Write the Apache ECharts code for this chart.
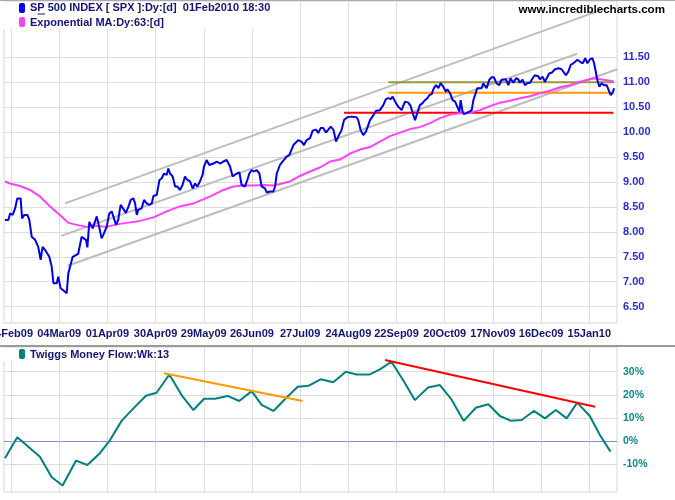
<!DOCTYPE html>
<html>
<head>
<meta charset="utf-8">
<script src="https://cdn.jsdelivr.net/npm/echarts@6/dist/echarts.min.js"></script>
<style>html,body{margin:0;padding:0;background:#fff;}#c{width:675px;height:500px;}</style>
</head>
<body>
<div id="c"></div>
<script>
// ---- data (x = trading days from 04Feb09) ----
const dateLabels = ['04Feb09','04Mar09','01Apr09','30Apr09','29May09','26Jun09','27Jul09','24Aug09','22Sep09','20Oct09','17Nov09','16Dec09','15Jan10'];
const labelDays = [0,20,40,60,80,100,120,140,160,180,200,220,240];
const priceTicks = [6.5,7.0,7.5,8.0,8.5,9.0,9.5,10.0,10.5,11.0,11.5];
const tmfTicks = [-10,0,10,20,30];

const priceDays = [-2.5,-1.1,-0.4,0.7,1.7,2.6,4.0,4.6,5.5,6.8,7.6,8.6,10.0,11.3,12.3,13.1,14.1,15.9,16.9,17.6,19.0,19.6,20.6,21.7,23.1,23.8,24.5,25.6,26.1,27.9,29.3,30.0,31.1,31.7,32.5,33.1,33.9,35.6,36.4,37.6,38.3,39.7,40.8,41.8,42.5,43.6,44.5,45.5,46.3,47.7,48.7,49.7,50.8,51.5,52.2,52.8,54.2,55.2,56.3,57.4,58.4,59.1,60.5,61.6,62.5,63.5,64.6,65.3,66.0,67.1,68.1,69.0,70.1,71.2,72.2,73.2,74.3,75.4,76.4,77.3,78.4,79.5,80.1,81.2,82.3,84.0,85.4,86.7,88.1,89.5,90.9,92.0,93.7,94.8,95.7,97.1,98.1,98.9,99.9,100.8,101.9,103.1,104.0,105.4,106.1,107.5,108.9,109.6,110.3,111.6,112.7,114.4,115.5,117.2,117.9,119.2,120.6,121.6,122.7,124.1,125.2,126.6,127.5,128.5,129.6,130.7,131.7,132.7,133.8,134.9,135.8,136.5,137.2,138.2,139.6,141.4,143.4,144.1,145.1,146.2,147.3,149.0,150.4,151.5,153.1,154.5,155.6,156.6,157.6,158.4,159.4,160.7,162.1,163.5,164.9,165.9,166.7,167.7,168.6,169.7,170.8,171.8,172.8,173.6,174.6,175.5,176.4,177.4,178.3,179.4,180.5,181.1,182.2,183.3,184.3,185.2,186.1,186.6,187.4,188.0,189.1,190.2,191.2,191.9,192.5,193.5,194.3,195.3,196.0,196.7,197.4,198.5,199.5,200.4,201.5,202.6,203.6,204.3,205.4,206.4,207.3,208.5,209.6,210.5,211.2,212.3,213.3,214.3,215.4,216.5,217.4,218.8,219.5,220.6,221.6,222.3,223.4,224.4,225.8,227.2,228.5,229.2,230.3,231.3,232.3,233.4,234.1,235.1,236.2,237.3,238.3,239.2,240.3,241.3,242.0,242.8,243.3,244.2,245.1,246.1,247.2,247.9,248.9,249.7,250.3];
const priceValues = [8.24,8.24,8.37,8.34,8.47,8.67,8.67,8.27,8.34,8.34,8.24,7.90,7.84,7.70,7.44,7.70,7.64,7.50,7.30,6.97,6.97,7.10,6.87,6.83,6.77,7.17,7.20,7.50,7.53,7.56,7.90,7.94,7.84,7.69,8.20,8.17,8.07,8.31,8.14,7.87,7.94,8.10,8.37,8.41,8.37,8.14,8.24,8.54,8.57,8.38,8.50,8.64,8.67,8.57,8.34,8.44,8.47,8.64,8.57,8.54,8.57,8.72,8.74,9.04,9.07,9.17,9.14,9.27,9.17,9.11,8.91,8.91,8.84,8.94,9.11,9.04,9.01,8.87,8.97,8.91,9.01,9.14,9.31,9.44,9.34,9.37,9.41,9.37,9.41,9.44,9.31,9.11,9.17,9.19,8.94,8.91,9.04,9.17,9.24,9.21,9.24,9.17,8.91,8.87,8.79,8.81,8.81,8.91,9.17,9.34,9.41,9.51,9.54,9.74,9.77,9.84,9.81,9.74,9.84,9.88,10.03,10.05,9.98,10.08,10.08,9.99,10.05,10.11,10.05,9.81,9.91,9.91,10.04,10.24,10.30,10.31,10.30,10.24,10.04,9.94,10.01,10.24,10.34,10.43,10.44,10.54,10.66,10.68,10.66,10.71,10.61,10.51,10.44,10.61,10.59,10.52,10.38,10.24,10.38,10.54,10.58,10.64,10.68,10.74,10.76,10.88,10.94,10.88,10.98,10.91,10.81,10.86,10.78,10.64,10.61,10.51,10.41,10.64,10.41,10.36,10.38,10.41,10.44,10.64,10.68,10.88,10.91,10.88,10.98,10.98,10.88,11.05,11.10,11.10,10.98,10.94,11.05,11.08,11.06,10.94,11.08,10.99,11.08,11.06,10.99,11.05,10.94,10.98,10.99,11.08,11.14,11.12,11.06,11.11,11.01,10.98,11.18,11.19,11.26,11.28,11.26,11.26,11.14,11.21,11.35,11.38,11.41,11.45,11.41,11.38,11.48,11.38,11.46,11.48,11.38,11.18,11.05,10.91,10.98,10.94,10.94,10.91,10.74,10.79,10.88];

const emaDays = [-2.5,-0.4,3.7,7.9,12.0,16.2,20.3,23.8,27.3,31.4,35.6,39.7,43.9,48.0,53.5,59.1,64.6,70.1,75.7,79.8,84.0,88.1,92.3,96.4,100.6,104.7,108.9,111.6,115.8,119.9,124.1,128.2,132.4,136.5,140.7,144.8,149.0,153.1,157.3,161.4,165.6,169.7,173.9,178.0,182.2,186.3,190.5,194.6,198.8,203.0,207.1,211.2,215.4,219.5,223.7,227.8,231.9,236.1,240.3,242.3,245.8,248.5,250.3];
const emaValues = [9.01,8.97,8.92,8.84,8.71,8.51,8.34,8.18,8.14,8.10,8.12,8.10,8.15,8.18,8.22,8.29,8.41,8.51,8.57,8.65,8.74,8.84,8.91,8.93,8.93,8.94,8.93,8.96,9.01,9.12,9.21,9.29,9.41,9.45,9.57,9.65,9.70,9.81,9.92,9.99,10.06,10.10,10.18,10.28,10.35,10.38,10.39,10.44,10.52,10.59,10.63,10.68,10.72,10.78,10.83,10.90,10.94,11.01,11.06,11.08,11.05,11.03,11.01];

const channelStart = [[22.4,8.57],[20.8,7.92],[23.5,7.32]];
const channelEnd = [[247.9,12.50],[235.0,11.57],[251.6,11.26]];
const levelValues = [11.00,10.79,10.39];
const levelFrom = [156.6,156.6,138.2];
const levelTo = [250.0,250.0,250.0];

const tmfDays = [-2.5,2.6,7.2,12.0,16.9,21.4,27.0,31.7,36.9,41.1,45.9,50.8,56.0,60.4,65.7,70.8,75.7,80.1,84.6,89.9,94.7,99.9,104.0,108.9,114.1,119.0,123.4,128.5,133.7,139.0,143.4,148.9,153.1,157.9,162.7,167.6,173.1,178.0,182.8,187.9,192.9,198.1,202.9,207.3,211.9,217.0,221.6,226.1,230.6,235.0,240.2,244.4,248.8];
const tmfValues = [-7.5,1.6,-2.5,-6.8,-15.7,-19.3,-8.5,-10.4,-5.3,0.4,8.7,14.1,19.6,20.9,28.8,19.9,13.4,18.3,18.3,19.5,17.3,21.6,15.6,13.0,18.5,23.5,23.9,26.7,25.4,30.0,28.8,28.8,31.0,34.3,26.4,17.7,23.2,24.2,18.0,8.7,14.4,15.9,10.8,8.8,9.1,13.0,9.8,13.4,9.8,16.6,10.8,2.6,-4.6];
const tmfTrendStart = [[63.5,29.3],[155.2,35.1]];
const tmfTrendEnd = [[121.0,17.3],[242.4,14.8]];

// ---- styles ----
const FONT = "'Liberation Sans', Arial, sans-serif";
const channelColor = '#bdbdbd';
const levelColors = ['#999933','#ff9900','#ff0000'];
const tmfTrendColors = ['#ff9900','#ff0000'];
const gridColor = '#dedede';

const chart = echarts.init(document.getElementById('c'), null, {renderer:'canvas'});

const xMin = -2.905, xMax = 251.5;
function xAxisCfg(gridIndex, withLabels) {
  return {
    type:'value', gridIndex, min:xMin, max:xMax,
    axisLine:{show:false},
    axisTick:{show:!withLabels, customValues:labelDays, length:3, inside:false, lineStyle:{color:'#c8c8c8'}},
    axisLabel:{show:withLabels, customValues:labelDays, margin:5, hideOverlap:false,
      formatter:(v)=>dateLabels[labelDays.indexOf(v)],
      color:'#141478', fontSize:11, fontWeight:'bold', fontFamily:FONT},
    splitLine:{show:true, lineStyle:{color:gridColor, width:1}}
  };
}

const series = [];
channelStart.forEach((s,i)=>{
  series.push({type:'line', xAxisIndex:0, yAxisIndex:0, data:[s, channelEnd[i]], showSymbol:false, silent:true,
    lineStyle:{color:channelColor, width:2}, z:2});
});
levelValues.forEach((v,i)=>{
  series.push({type:'line', xAxisIndex:0, yAxisIndex:0, data:[[levelFrom[i],v],[levelTo[i],v]], showSymbol:false, silent:true,
    lineStyle:{color:levelColors[i], width:2}, z:3});
});
series.push({type:'line', xAxisIndex:0, yAxisIndex:0, data:emaDays.map((d,i)=>[d,emaValues[i]]), showSymbol:false,
  lineStyle:{color:'#ff40ff', width:2}, z:4});
series.push({type:'line', xAxisIndex:0, yAxisIndex:0, data:priceDays.map((d,i)=>[d,priceValues[i]]), showSymbol:false,
  lineStyle:{color:'#0000ee', width:2}, z:5});
series.push({type:'line', xAxisIndex:1, yAxisIndex:1, data:tmfDays.map((d,i)=>[d,tmfValues[i]]), showSymbol:false,
  lineStyle:{color:'#008080', width:2}, z:4});
tmfTrendStart.forEach((s,i)=>{
  series.push({type:'line', xAxisIndex:1, yAxisIndex:1, data:[s, tmfTrendEnd[i]], showSymbol:false, silent:true,
    lineStyle:{color:tmfTrendColors[i], width:2}, z:5});
});

const legendText = {fontFamily:FONT, fontSize:11, fontWeight:'bold', fill:'#141478', verticalAlign:'middle', align:'left'};

chart.setOption({
  animation:false,
  backgroundColor:'#ffffff',
  grid:[
    {left:4, top:1, width:613, height:322, show:true, borderColor:'#d6d6d6', borderWidth:1, containLabel:false, outerBoundsMode:'none'},
    {left:4, top:347, width:613, height:145, show:true, borderColor:'#d6d6d6', borderWidth:1, containLabel:false, outerBoundsMode:'none'}
  ],
  xAxis:[xAxisCfg(0,true), xAxisCfg(1,false)],
  yAxis:[
    {type:'value', gridIndex:0, position:'right', min:6.173, max:12.628,
      axisLine:{show:false}, axisTick:{show:false, customValues:priceTicks},
      axisLabel:{customValues:priceTicks, margin:6, formatter:(v)=>v.toFixed(2),
        color:'#2d2dd2', fontSize:11, fontWeight:'bold', fontFamily:FONT},
      splitLine:{show:true, lineStyle:{color:gridColor}}},
    {type:'value', gridIndex:1, position:'right', min:-22.1, max:40.7,
      axisLine:{show:false}, axisTick:{show:true, customValues:tmfTicks, length:5, lineStyle:{color:'#d0d0d0'}},
      axisLabel:{customValues:tmfTicks, margin:6, formatter:(v)=>v+'%',
        color:'#0a8a8a', fontSize:10.5, fontWeight:'bold', fontFamily:FONT},
      splitLine:{show:true, lineStyle:{color:[gridColor,'#8c8ccc',gridColor,gridColor,gridColor]}}}
  ],
  series,
  graphic:[
    {type:'line', shape:{x1:0,y1:0.5,x2:675,y2:0.5}, style:{stroke:'#aaaaaa', lineWidth:1}, z:50},
    {type:'line', shape:{x1:0,y1:346,x2:675,y2:346}, style:{stroke:'#9a9a9a', lineWidth:2}, z:50},
    {type:'rect', shape:{x:0,y:2,width:268,height:27}, style:{fill:'#ffffff'}, z:60},
    {type:'rect', shape:{x:19,y:3,width:6,height:10,r:2}, style:{fill:'#0000ff'}, z:61},
    {type:'text', x:30, y:8, style:Object.assign({text:'SP 500 INDEX [ SPX ]:Dy:[d]  01Feb2010 18:30'}, legendText), z:61},
    {type:'line', shape:{x1:37.5,y1:14,x2:45,y2:14}, style:{stroke:'#141478', lineWidth:1}, z:61},
    {type:'rect', shape:{x:19,y:17,width:6,height:10,r:2}, style:{fill:'#ff40ff'}, z:61},
    {type:'text', x:30, y:22.5, style:Object.assign({text:'Exponential MA:Dy:63:[d]'}, legendText), z:61},
    {type:'rect', shape:{x:0,y:348,width:176,height:13}, style:{fill:'#ffffff'}, z:60},
    {type:'rect', shape:{x:19,y:349,width:6,height:10,r:2}, style:{fill:'#008080'}, z:61},
    {type:'text', x:30, y:354.5, style:Object.assign({text:'Twiggs Money Flow:Wk:13'}, legendText), z:61},
    {type:'text', x:665, y:10, style:{text:'www.incrediblecharts.com', fontFamily:FONT, fontSize:11.6, fontWeight:'bold', fill:'#000000', align:'right', verticalAlign:'middle'}, z:61}
  ]
});
</script>
</body>
</html>
